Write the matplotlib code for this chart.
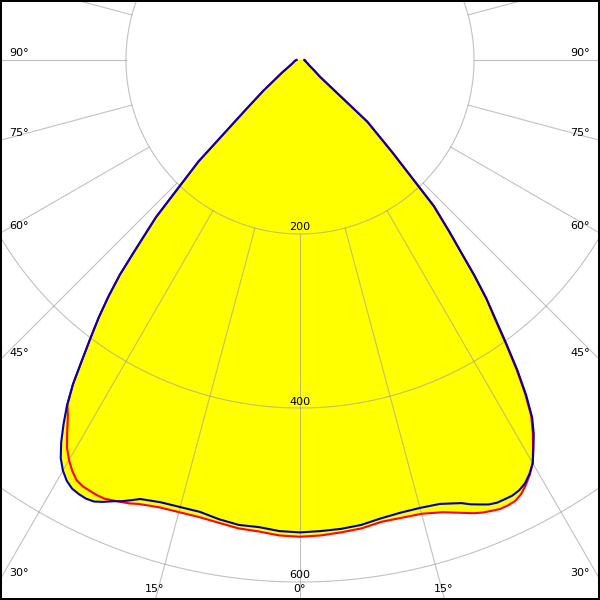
import numpy as np
import matplotlib.pyplot as plt

# gamma angles (deg, 0 = straight down, negative = left side)
gamma = [-90, -85, -80, -75, -70, -65, -60, -55, -50, -47.5, -45, -42.5,
         -41, -40, -39, -38, -37, -36, -35, -34, -33, -32, -31, -30, -29, -28, -27,
         -26, -25, -24, -23, -22, -21,
         -20, -17.5, -15, -12.5, -10, -7.5, -5, -2.5, 0, 2.5, 5, 7.5, 10, 12.5, 15, 17.5, 20,
         21, 22, 23, 24, 25, 26, 27, 28, 29, 30, 31, 32, 33, 34, 35, 36, 37, 38, 39, 40, 41,
         42.5, 45, 47.5, 50, 55, 60, 65, 70, 75, 80, 85, 90]

# luminous intensity, cd (red curve)
cd_red = [4, 5, 6, 7, 8, 10, 14, 25, 55, 85, 165, 245,
          287, 322, 350, 376, 400, 426, 455, 478, 490, 505, 520, 531, 540, 547, 550,
          551, 552, 552, 550, 548, 546,
          543, 539, 538, 538, 540, 543, 544, 547, 548, 547, 545, 543, 539, 539, 540, 545, 554,
          558, 561, 563, 565, 565, 564, 560, 553, 545, 535, 520, 505, 488, 463, 434, 402, 372, 348, 318, 287, 262,
          227, 150, 105, 30, 18, 12, 10, 8, 7, 6, 6, 5]

# luminous intensity, cd (blue curve)
cd_blue = [4, 5, 6, 7, 8, 10, 14, 25, 55, 85, 165, 245,
           287, 322, 350, 376, 400, 426, 455, 479, 499, 518, 534, 545, 553, 558, 560,
           561, 560, 556, 551, 547, 542,
           537, 533, 532, 532, 536, 539, 539, 542, 543, 542, 541, 539, 535, 533, 533, 535, 542,
           547, 551, 555, 557, 557, 557, 555, 551, 544, 535, 521, 507, 490, 465, 436, 404, 374, 348, 318, 287, 262,
           228, 150, 105, 30, 18, 12, 10, 8, 7, 6, 6, 5]

rings = [200, 400, 600]
side_angles = [90, 75, 60, 45, 30]
bottom_angles = [-15, 0, 15]

PX = 200 / 174.0          # cd per pixel
XMAX = 300 * PX
YTOP = 60 * PX
YBOT = -540 * PX


def to_xy(g, r):
    g = np.radians(np.asarray(g, dtype=float))
    r = np.asarray(r, dtype=float)
    return r * np.sin(g), -r * np.cos(g)


fig = plt.figure(figsize=(6, 6), dpi=100)
ax = fig.add_axes([0, 0, 1, 1])
ax.set_xlim(-XMAX, XMAX)
ax.set_ylim(YBOT, YTOP)
ax.set_aspect('equal')
ax.set_xticks([])
ax.set_yticks([])
for s in ax.spines.values():
    s.set_linewidth(2.9)
    s.set_color('black')

# filled light distribution
xr, yr = to_xy(gamma, cd_red)
xb, yb = to_xy(gamma, cd_blue)
ax.fill(xr, yr, color='#ffff00', lw=0, zorder=1)
ax.fill(xb, yb, color='#ffff00', lw=0, zorder=1)

# grid
t = np.linspace(0, 2 * np.pi, 721)
for r in rings:
    ax.plot(r * np.sin(t), r * np.cos(t), color='#999999', alpha=0.6, lw=0.8, zorder=2)
for a in range(0, 360, 15):
    x0, y0 = to_xy(a, 200)
    x1, y1 = to_xy(a, 1200)
    ax.plot([x0, x1], [y0, y1], color='#999999', alpha=0.6, lw=0.8, zorder=2)

ax.plot(xr, yr, color='#ff0000', lw=1.5, zorder=3)
ax.plot(xb, yb, color='#0000b4', lw=1.5, zorder=4)

# labels
fs = 8
for r in rings:
    ax.text(0, -r + 1.5 * PX, str(r), ha='center', va='bottom', fontsize=fs, zorder=5)
for a in side_angles:
    ar = np.radians(a)
    y = -XMAX * np.cos(ar) / np.sin(ar) + 2 * PX
    ax.text(-XMAX + 9 * PX, y, f'{a}°', ha='left', va='bottom', fontsize=fs, zorder=5)
    ax.text(XMAX - 10 * PX, y, f'{a}°', ha='right', va='bottom', fontsize=fs, zorder=5)
for a in bottom_angles:
    x = -YBOT * np.tan(np.radians(a))
    ax.text(x - 1 * PX, YBOT + 6 * PX, f'{abs(a)}°', ha='center', va='bottom', fontsize=fs, zorder=5)

fig.savefig('out.png', dpi=100)
